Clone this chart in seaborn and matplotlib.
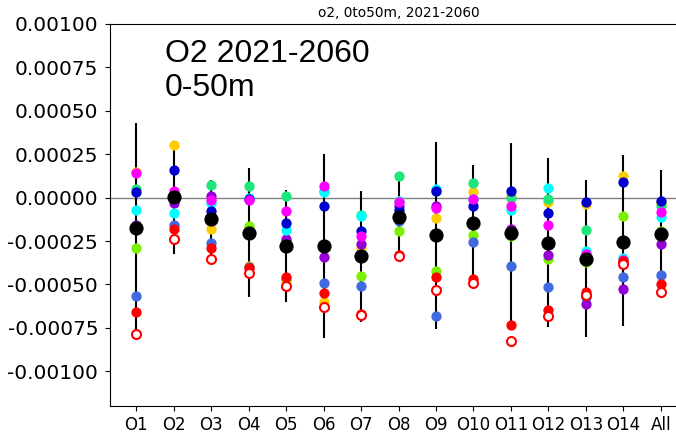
import matplotlib
matplotlib.use("Agg")
import matplotlib.pyplot as plt
import seaborn as sns
import numpy as np
from matplotlib.ticker import FormatStrFormatter, MultipleLocator

categories = ["O1", "O2", "O3", "O4", "O5", "O6", "O7", "O8", "O9", "O10",
              "O11", "O12", "O13", "O14", "All"]

gold = [0.000145, 0.000304, -0.000179, -0.000394, -0.00048, -0.0006, -0.00029, -0.00002,
        -0.00012, 0.000033, 0.0000076, -0.000027, -0.000036, 0.000122, -0.00003]
lawngreen = [-0.000288, -0.00001, -0.00012, -0.000164, -0.00047, -0.00029, -0.000451, -0.000193,
             -0.000422, -0.000218, -0.00022, -0.000355, -0.00037, -0.000107, -0.00019]
springgreen = [0.00005, 0.00002, 0.000074, 0.000065, 0.0000076, 0.00004, -0.0001, 0.000126,
               0.00004, 0.000084, 0.0, -0.0000076, -0.000189, -0.00036, -0.000046]
royalblue = [-0.000566, -0.00016, -0.00026, -0.0004, -0.00025, -0.000493, -0.000508, -0.000136,
             -0.00068, -0.000254, -0.000394, -0.000514, -0.00057, -0.000457, -0.000447]
purple = [-0.000155, -0.00003, 0.0000076, -0.0002, -0.00024, -0.00034, -0.000269, -0.00005,
          -0.00005, -0.00015, -0.000183, -0.000332, -0.000615, -0.000527, -0.000269]
cyan = [-0.000069, -0.000088, -0.00003, -0.000002, -0.000187, 0.00003, -0.000103, -0.00002,
        0.00005, -0.00001, -0.000069, 0.000055, -0.000308, -0.000346, -0.000111]
blue = [0.00003, 0.00016, -0.000078, -0.00001, -0.000145, -0.00005, -0.000193, -0.000069,
        0.000036, -0.000046, 0.00004, -0.000088, -0.000025, 0.000088, -0.000021]
magenta = [0.000141, 0.000036, -0.000011, -0.000015, -0.000078, 0.000065, -0.000222, -0.000025,
           -0.000059, -0.0000076, -0.000046, -0.000155, -0.000327, -0.00036, -0.000084]
red = [-0.00066, -0.000178, -0.000292, -0.000403, -0.000455, -0.00055, -0.00067, -0.00033,
       -0.000457, -0.00047, -0.000733, -0.000648, -0.000543, -0.000365, -0.0005]
red_open = [-0.000787, -0.00024, -0.000351, -0.000436, -0.000508, -0.000627, -0.000674, -0.000336,
            -0.000531, -0.000493, -0.000827, -0.00068, -0.000558, -0.00038, -0.000546]
mean = [-0.000174, 0.000004, -0.000122, -0.000202, -0.000279, -0.000279, -0.000336, -0.000111,
        -0.000218, -0.000145, -0.000202, -0.00026, -0.000351, -0.000254, -0.000208]
whisker_hi = [0.00043, 0.00031, 0.000103, 0.00017, 0.000046, 0.000252, 0.000036, 0.00013,
              0.000323, 0.000189, 0.000313, 0.000227, 0.000103, 0.000246, 0.00016]
whisker_lo = [-0.00079, -0.000327, -0.00036, -0.000575, -0.0006, -0.00081, -0.000718, -0.00034,
              -0.000756, -0.0005, -0.00076, -0.000747, -0.000804, -0.000741, -0.00055]

series = [
    (gold, "#ffcc00"),
    (lawngreen, "#7cf000"),
    (springgreen, "#1ee67a"),
    (royalblue, "#4169e1"),
    (purple, "#9400d3"),
    (cyan, "#00ffff"),
    (blue, "#0000cd"),
    (magenta, "#ff00ff"),
    (red, "#ff0000"),
]

fig = plt.figure(figsize=(6.76, 4.36), dpi=100)
ax = fig.add_axes([110 / 676, 1 - 406 / 436, 577 / 676, 382 / 436])

xpos = np.arange(len(categories))
ax.axhline(0, color="#808080", lw=1.0, zorder=1)
ax.vlines(xpos, whisker_lo, whisker_hi, color="black", lw=1.5, zorder=2)

for vals, col in series:
    sns.scatterplot(x=categories, y=vals, color=col, s=55, linewidth=0, ax=ax, zorder=3)
sns.scatterplot(x=categories, y=red_open, facecolor="white", edgecolor="#ff0000",
                s=42, linewidth=1.5, ax=ax, zorder=4)
sns.scatterplot(x=categories, y=mean, color="black", s=105, linewidth=0, ax=ax, zorder=5)

ax.set_xlim(-0.7, 14.7)
ax.set_ylim(-0.0012, 0.001)
ax.yaxis.set_major_locator(MultipleLocator(0.00025))
ax.yaxis.set_major_formatter(FormatStrFormatter("%.5f"))
ax.set_ylim(-0.0012, 0.001)
ax.tick_params(axis="x", labelsize=12, colors="black")
ax.tick_params(axis="y", labelsize=14.5, colors="black", pad=5)
ax.set_xlabel("")
ax.set_ylabel("")
ax.set_title("o2, 0to50m, 2021-2060", fontsize=9.8, pad=5)
ax.text(0.095, 0.962, "O2 2021-2060\n0-50m", transform=ax.transAxes, va="top", ha="left",
        fontsize=23, family=["Liberation Sans", "DejaVu Sans"], linespacing=1.2)

fig.savefig("out.png", dpi=100)
